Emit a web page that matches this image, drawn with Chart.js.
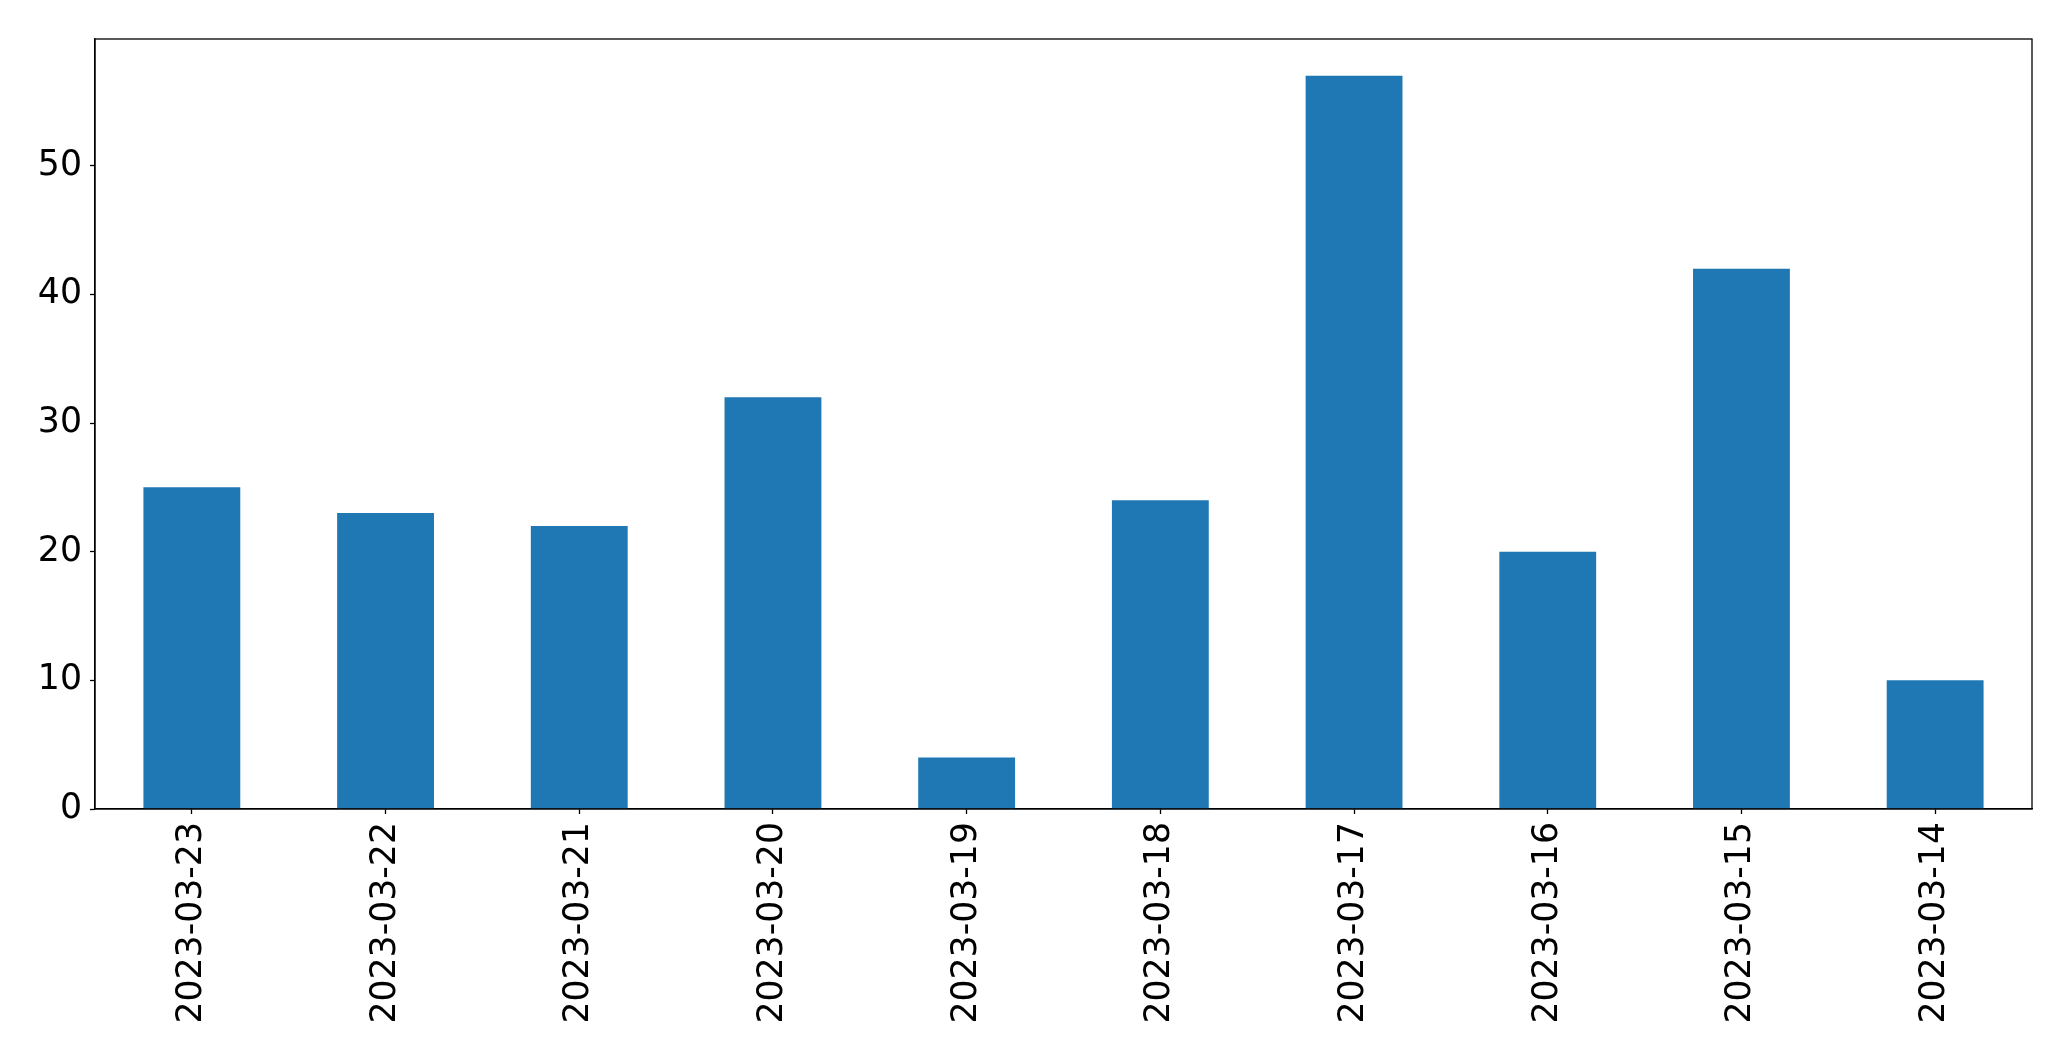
<!DOCTYPE html>
<html><head><meta charset="utf-8">
<script src="https://cdn.jsdelivr.net/npm/chart.js@4/dist/chart.umd.min.js"></script>
<style>html,body{margin:0;padding:0;background:#fff}#wrap{width:2071px;height:1061px}</style>
</head><body><div id="wrap"><canvas id="c"></canvas></div>
<script>
const categories = ["2023-03-23","2023-03-22","2023-03-21","2023-03-20","2023-03-19","2023-03-18","2023-03-17","2023-03-16","2023-03-15","2023-03-14"];
const values = [25,23,22,32,4,24,57,20,42,10];
const yTicks = [0,10,20,30,40,50];

const frame = {
  id:'frame',
  afterDraw(chart){
    const {ctx, chartArea:a} = chart;
    ctx.save();
    ctx.strokeStyle='#000'; ctx.lineWidth=1.3;
    ctx.strokeRect(a.left, a.top, a.right-a.left, a.bottom-a.top);
    ctx.restore();
  }
};

new Chart(document.getElementById('c'), {
  type:'bar',
  data:{labels:categories, datasets:[{data:values, backgroundColor:'#1f77b4', categoryPercentage:1, barPercentage:0.5}]},
  options:{
    responsive:true, maintainAspectRatio:false, animation:false,
    layout:{padding:{top:39, right:39, left:0, bottom:0}},
    plugins:{legend:{display:false}, tooltip:{enabled:false}},
    scales:{
      x:{
        grid:{offset:false, drawOnChartArea:false, tickLength:5, tickColor:'#000', tickWidth:1.3},
        border:{color:'#000', width:1.3},
        ticks:{color:'#000', font:{family:'DejaVu Sans', size:34.7}, minRotation:90, maxRotation:90, padding:8, autoSkip:false},
        afterFit(s){ s.height = 252; }
      },
      y:{
        min:0, max:59.85,
        grid:{drawOnChartArea:false, tickLength:5, tickColor:'#000', tickWidth:1.3},
        border:{color:'#000', width:1.3},
        ticks:{color:'#000', font:{family:'DejaVu Sans', size:34.7}, stepSize:10, includeBounds:false, padding:8},
        afterBuildTicks(s){ s.ticks = yTicks.map(v=>({value:v})); },
        afterFit(s){ s.width = 95; }
      }
    }
  },
  plugins:[frame]
});
</script></body></html>
